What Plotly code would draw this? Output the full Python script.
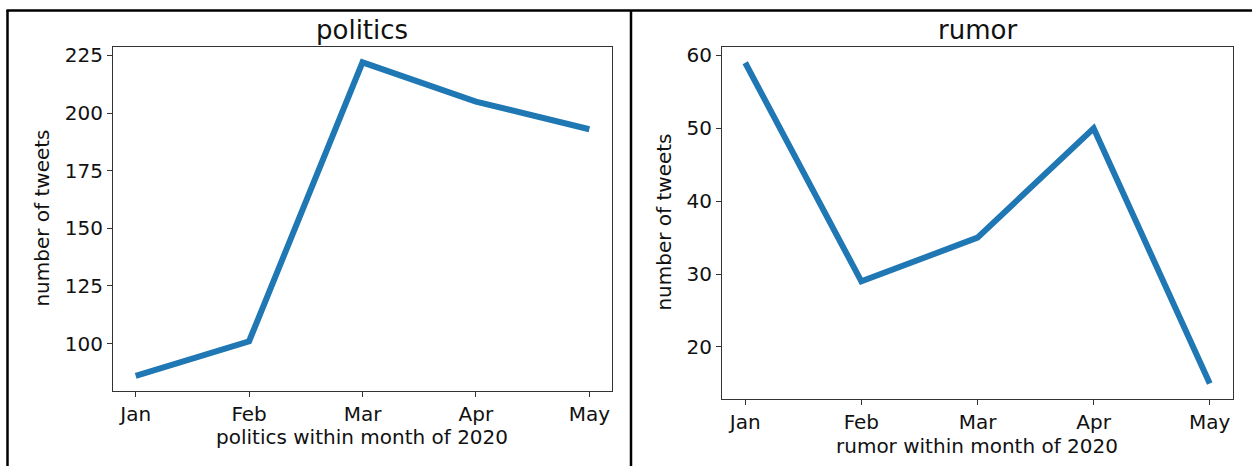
import plotly.graph_objects as go

months = ["Jan", "Feb", "Mar", "Apr", "May"]
politics = [86, 101, 222, 205, 193]
rumor = [59, 29, 35, 50, 15]

W, H = 1252, 466
FONT = "DejaVu Sans"
BLUE = "#1f77b4"

def px(x):
    return x / W

def py(y):
    return 1 - y / H

fig = go.Figure()
fig.add_trace(go.Scatter(x=list(range(len(months))), y=politics, mode="lines",
                         line=dict(color=BLUE, width=6), xaxis="x", yaxis="y",
                         showlegend=False, hoverinfo="skip"))
fig.add_trace(go.Scatter(x=list(range(len(months))), y=rumor, mode="lines",
                         line=dict(color=BLUE, width=6), xaxis="x2", yaxis="y2",
                         showlegend=False, hoverinfo="skip"))

axcommon = dict(showline=True, linecolor="#333", linewidth=1, mirror=True,
                ticks="outside", ticklen=5, tickcolor="#333", showgrid=False,
                zeroline=False, tickfont=dict(family=FONT, size=20, color="#111"))

fig.update_layout(
    width=W, height=H, margin=dict(l=0, r=0, t=0, b=0),
    paper_bgcolor="white", plot_bgcolor="white",
    xaxis=dict(domain=[px(113), px(612)], anchor="y", range=[-0.2, 4.2],
               tickmode="array", tickvals=list(range(5)), ticktext=months, **axcommon),
    yaxis=dict(domain=[py(391), py(44)], anchor="x", range=[79.2, 228.8],
               tickvals=[100, 125, 150, 175, 200, 225], **axcommon),
    xaxis2=dict(domain=[px(722), px(1233)], anchor="y2", range=[-0.2, 4.2],
                tickmode="array", tickvals=list(range(5)), ticktext=months, **axcommon),
    yaxis2=dict(domain=[py(399), py(44)], anchor="x2", range=[12.8, 61.2],
                tickvals=[20, 30, 40, 50, 60], **axcommon),
)

ann = []
def text(x, y, t, size=20, angle=0):
    ann.append(dict(x=px(x), y=py(y), xref="paper", yref="paper", text=t,
                    showarrow=False, textangle=angle, xanchor="center", yanchor="middle",
                    font=dict(family=FONT, size=size, color="#111")))

text(362.5, 27, "politics", 26)
text(977.5, 27, "rumor", 26)
text(362, 437, "politics within month of 2020")
text(977, 446, "rumor within month of 2020")
text(42, 217, "number of tweets", angle=-90)
text(664, 221, "number of tweets", angle=-90)
fig.update_layout(annotations=ann)

shapes = []
def line(x0, y0, x1, y1):
    shapes.append(dict(type="line", xref="paper", yref="paper", x0=px(x0), y0=py(y0),
                       x1=px(x1), y1=py(y1), line=dict(color="black", width=2.5)))
line(6.5, 7.5, 1252, 7.5)
line(7.5, 7, 7.5, 466)
line(631, 7, 631, 466)
fig.update_layout(shapes=shapes)

fig.write_html(
    "out.html",
    config={"displayModeBar": False, "staticPlot": True},
    post_script="document.body.style.margin='0';document.body.style.overflow='hidden';",
)
